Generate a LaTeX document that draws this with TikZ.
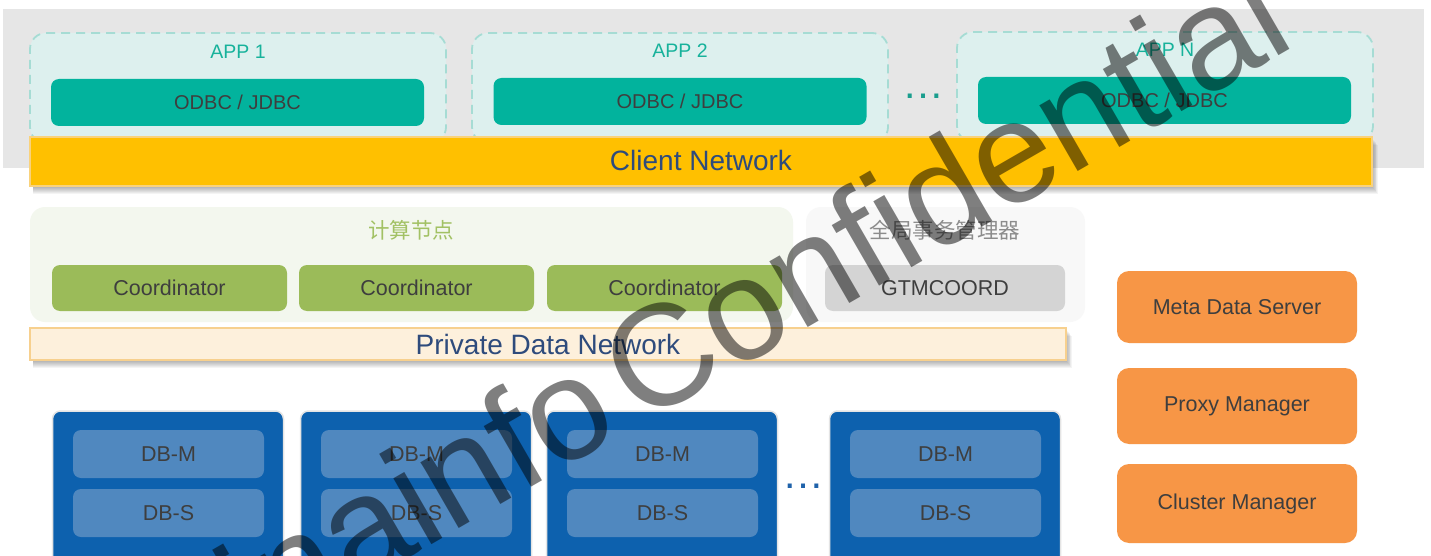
\documentclass[tikz,border=0pt]{standalone}
\usepackage{fontspec}
\usetikzlibrary{calc}
\setmainfont{Liberation Sans}
\newfontfamily\cjkfont{Noto Sans CJK SC}
\newcommand\myfs[1]{\fontsize{#1}{#1}\selectfont}
\definecolor{bandgray}{HTML}{E6E6E6}
\definecolor{appfill}{HTML}{DDF0EE}
\definecolor{appdash}{HTML}{A6DCD4}
\definecolor{apptxt}{HTML}{17B29B}
\definecolor{odbc}{HTML}{02B39D}
\definecolor{txtdark}{HTML}{3E3E3E}
\definecolor{clientbar}{HTML}{FFC000}
\definecolor{clientborder}{HTML}{F9D27C}
\definecolor{nettxt}{HTML}{2E4B7C}
\definecolor{compfill}{HTML}{F3F7EE}
\definecolor{coordfill}{HTML}{9BBB59}
\definecolor{coordtitle}{HTML}{A2C164}
\definecolor{gtmfill}{HTML}{F8F8F8}
\definecolor{gtmbox}{HTML}{D4D4D4}
\definecolor{gtmtitle}{HTML}{8C8C8C}
\definecolor{privfill}{HTML}{FDF0DC}
\definecolor{privborder}{HTML}{F7D08E}
\definecolor{metafill}{HTML}{F79646}
\definecolor{dbouter}{HTML}{0D61AE}
\definecolor{dbinner}{HTML}{5088BF}
\definecolor{dbedge}{HTML}{E4E4E4}
\definecolor{dbdots}{HTML}{1F62AA}
\definecolor{appdots}{HTML}{1A9E8E}
\newcommand\mybarshadow[4]{%
  \foreach \i in {1,...,8}{\fill[black,opacity=0.045] (#1+3,#2+\i) rectangle (#3+0.7*\i,#4+\i);}}
\begin{document}
\begin{tikzpicture}[x=1pt,y=-1pt,
  every node/.style={inner sep=0pt, outer sep=0pt},
  appbox/.style={draw=appdash, fill=appfill, dash pattern=on 9pt off 6pt, line width=1.8pt, rounded corners=16pt, minimum width=416pt, minimum height=110pt},
  applbl/.style={text=apptxt, font=\myfs{19.5}},
  odbcbox/.style={fill=odbc, rounded corners=8pt, minimum width=373pt, minimum height=47pt, font=\myfs{20}, text=txtdark},
  netbar/.style={font=\myfs{28}, text=nettxt},
  groupbox/.style={rounded corners=15pt, minimum height=115pt},
  coordbox/.style={fill=coordfill, rounded corners=8pt, minimum width=235pt, minimum height=46pt, font=\myfs{21.5}, text=txtdark},
  metabox/.style={fill=metafill, rounded corners=12pt, minimum width=240pt, font=\myfs{21.5}, text=txtdark},
  dbbox/.style={fill=dbouter, draw=dbedge, line width=1.5pt, rounded corners=8pt, minimum width=231pt, minimum height=159pt},
  dbpart/.style={fill=dbinner, rounded corners=8pt, minimum width=191pt, minimum height=48pt, font=\myfs{21.5}, text=txtdark},
  dotsnode/.style={font=\myfs{42}},
  watermark/.style={rotate=30, anchor=base west, text=black, opacity=0.5, font=\myfs{144}}
]
\useasboundingbox (0,0) rectangle (1431,556);
\fill[white] (0,0) rectangle (1431,556);
% client band
\fill[bandgray] (3,9) rectangle (1424,168);
\node[appbox] (app1) at (238,88) {};
\node[appbox] (app2) at (680,88) {};
\node[appbox] (appN) at (1165,87) {};
\node[applbl] (app1lbl) at (238,52) {APP 1};
\node[applbl] (app2lbl) at (680,51) {APP 2};
\node[applbl] (appNlbl) at (1165,50) {APP N};
\node[odbcbox] (odbc1) at (237.5,102.5) {ODBC / JDBC};
\node[odbcbox] (odbc2) at (680,101.5) {ODBC / JDBC};
\node[odbcbox] (odbcN) at (1164.5,100.5) {ODBC / JDBC};
\node[dotsnode, text=appdots] (appdots) at (923,96) {…};
% client network bar
\mybarshadow{30}{137}{1372}{186}
\node[netbar, fill=clientbar, draw=clientborder, line width=1.2pt, minimum width=1342pt, minimum height=49pt, text depth=1.5pt] (client) at (701,161.5) {Client Network};
% compute group
\node[groupbox, fill=compfill, minimum width=763pt] (compute) at (411.5,264.5) {};
\node[text=coordtitle, font=\cjkfont\myfs{21.5}] (computelbl) at (411,230) {计算节点};
\node[coordbox] (coord1) at (169.5,288) {Coordinator};
\node[coordbox] (coord2) at (416.5,288) {Coordinator};
\node[coordbox] (coord3) at (664.5,288) {Coordinator};
% gtm group
\node[groupbox, fill=gtmfill, minimum width=279pt] (gtm) at (945.5,264.5) {};
\node[text=gtmtitle, font=\cjkfont\myfs{21.5}] (gtmlbl) at (945,230) {全局事务管理器};
\node[coordbox, fill=gtmbox, minimum width=240pt] (gtmcoord) at (945,288) {GTMCOORD};
% private network bar
\mybarshadow{30}{328}{1066}{360}
\node[netbar, fill=privfill, draw=privborder, line width=1.2pt, minimum width=1036pt, minimum height=32pt] (private) at (548,344) {Private Data Network};
% right side managers
\node[metabox, minimum height=72pt] (mds) at (1237,307) {Meta Data Server};
\node[metabox, minimum height=76pt] (pm) at (1237,406) {Proxy Manager};
\node[metabox, minimum height=79pt] (cm) at (1237,503.5) {Cluster Manager};
% data nodes
\foreach \n/\x in {1/168,2/416,3/662,4/945}{
  \node[dbbox] (db\n) at (\x,490.5) {};
  \node[dbpart] (db\n m) at ($(db\n.north)+(0.5,43)$) {DB-M};
  \node[dbpart] (db\n s) at ($(db\n.north)+(0.5,102)$) {DB-S};
}
\node[dotsnode, text=dbdots] (dbdots) at (803,486) {…};
% watermark
\node[watermark] (wm1) at (97.5,738) {Chinainfo};
\node[watermark] (wm2) at (640,425) {Confidential};
\end{tikzpicture}
\end{document}
